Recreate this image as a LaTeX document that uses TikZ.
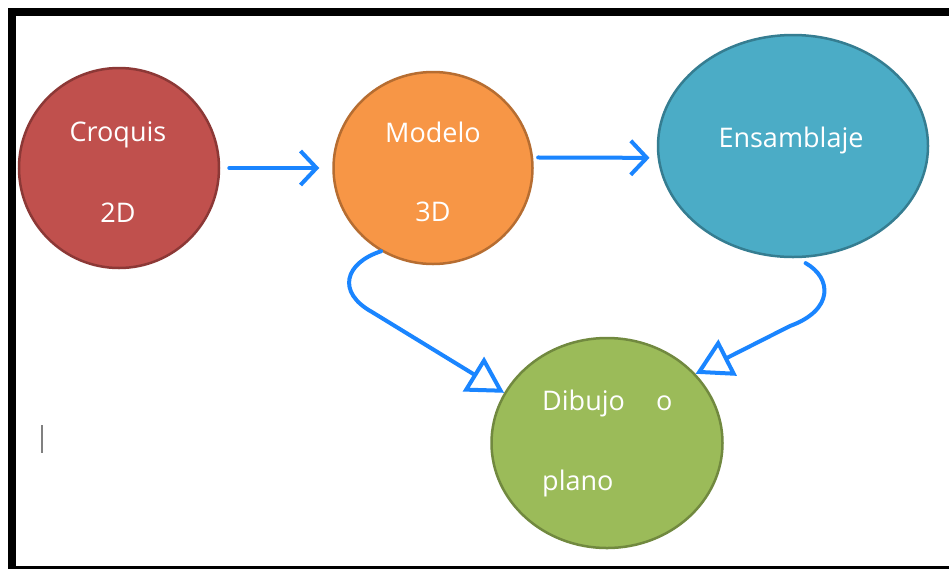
\documentclass[tikz,border=0pt]{standalone}
\usepackage{fontspec}
\setmainfont{Open Sans}
\usetikzlibrary{shapes.geometric,arrows.meta}
\definecolor{cred}{HTML}{C0504D}
\definecolor{credb}{HTML}{8C3836}
\definecolor{corange}{HTML}{F79646}
\definecolor{corangeb}{HTML}{B66D31}
\definecolor{cteal}{HTML}{4BACC6}
\definecolor{ctealb}{HTML}{357D91}
\definecolor{cgreen}{HTML}{9BBB59}
\definecolor{cgreenb}{HTML}{71893F}
\definecolor{arrowblue}{HTML}{1A85FF}
\begin{document}
\begin{tikzpicture}[x=1pt,y=-1pt,
  blob/.style={ellipse, line width=2.5pt, inner sep=0pt},
  lbl/.style={text=white, font=\fontsize{27}{30}\selectfont, anchor=base, inner sep=0pt},
  flow/.style={draw=arrowblue, line width=4pt, line cap=round},
  barb/.style={-{Straight Barb[length=16pt,width=34pt]}},
  tri/.style={-{Triangle[open,length=36pt,width=40pt]}}]
\useasboundingbox (0,0) rectangle (949,568);
\clip (0,0) rectangle (949,568);
\fill[white] (0,0) rectangle (949,568);
\draw[line width=8pt] (12,12) rectangle (990,570);
% nodes
\node[blob, fill=cred, draw=credb, minimum width=200pt, minimum height=200pt] (croq) at (119,168) {};
\node[blob, fill=corange, draw=corangeb, minimum width=199pt, minimum height=192pt] (mod) at (433,168) {};
\node[blob, fill=cteal, draw=ctealb, minimum width=270pt, minimum height=222pt] (ens) at (793,146) {};
\node[blob, fill=cgreen, draw=cgreenb, minimum width=231pt, minimum height=210pt] (dib) at (607,443) {};
% labels
\node[lbl] (t1) at (118,141) {Croquis};
\node[lbl] (t2) at (118,222) {2D};
\node[lbl] (t3) at (433,142) {Modelo};
\node[lbl] (t4) at (433,221) {3D};
\node[lbl] (t5) at (791,147) {Ensamblaje};
\node[lbl, anchor=base west] (t6) at (542,410) {Dibujo};
\node[lbl, anchor=base west] (t6b) at (656,410) {o};
\node[lbl, anchor=base west] (t7) at (542,490) {plano};
% connectors
\draw[flow,barb,shorten <=9pt,shorten >=13pt] (croq) -- (mod);
\draw[flow,barb,shorten <=5pt,shorten >=8pt] (mod.6) -- (ens.185);
\draw[flow,tri] (mod.238) .. controls (345,263) and (336,292) .. (372,312) -- (dib.154);
\draw[flow,tri,shorten <=10pt] (ens.272) .. controls (832,278) and (834,310) .. (790,326) -- (dib.38);
% text cursor
\draw[gray, line width=1.3pt] (42,425) -- (42,453);
\end{tikzpicture}
\end{document}
